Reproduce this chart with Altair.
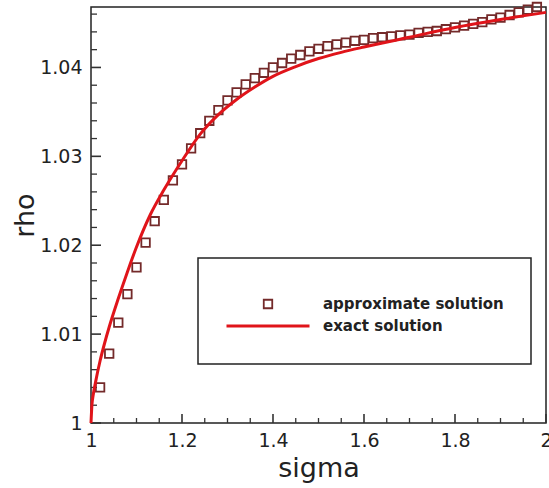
import altair as alt
import pandas as pd

# Approximate solution (square markers)
sigma_approx = [1.02, 1.04, 1.06, 1.08, 1.10, 1.12, 1.14, 1.16, 1.18, 1.20,
                1.22, 1.24, 1.26, 1.28, 1.30, 1.32, 1.34, 1.36, 1.38, 1.40,
                1.42, 1.44, 1.46, 1.48, 1.50, 1.52, 1.54, 1.56, 1.58, 1.60,
                1.62, 1.64, 1.66, 1.68, 1.70, 1.72, 1.74, 1.76, 1.78, 1.80,
                1.82, 1.84, 1.86, 1.88, 1.90, 1.92, 1.94, 1.96, 1.98]
rho_approx = [1.0040, 1.0078, 1.0113, 1.0145, 1.0175, 1.0203, 1.0227, 1.0251, 1.0273, 1.0291,
              1.0309, 1.0326, 1.0340, 1.0352, 1.0363, 1.0372, 1.0381, 1.0388, 1.0394, 1.0400,
              1.0405, 1.0410, 1.0414, 1.0418, 1.0421, 1.0424, 1.0426, 1.0428, 1.0430, 1.0431,
              1.0433, 1.0434, 1.0435, 1.0436, 1.0437, 1.0439, 1.0440, 1.0441, 1.0443, 1.0445,
              1.0447, 1.0449, 1.0451, 1.0454, 1.0456, 1.0459, 1.0462, 1.0465, 1.0468]

# Exact solution (solid line)
sigma_exact = [1.00, 1.002, 1.005, 1.01, 1.02, 1.03, 1.04, 1.06, 1.08, 1.10, 1.13, 1.16,
               1.20, 1.24, 1.28, 1.32, 1.36, 1.40, 1.45, 1.50, 1.55, 1.60, 1.70, 1.80,
               1.90, 2.00]
rho_exact = [1.0000, 1.0020, 1.0032, 1.0046, 1.0070, 1.0090, 1.0108, 1.0140, 1.0170, 1.0198,
             1.0234, 1.0262, 1.0295, 1.0325, 1.0347, 1.0364, 1.0378, 1.0390, 1.0401, 1.0410,
             1.0417, 1.0423, 1.0434, 1.0445, 1.0454, 1.0462]

series_names = ["approximate solution", "exact solution"]
series_colors = ["#742a2a", "#e0141a"]

# Axis ticks (drawn on the inside of the frame)
x_major = [1, 1.2, 1.4, 1.6, 1.8, 2]
x_minor = [1.05, 1.1, 1.15, 1.25, 1.3, 1.35, 1.45, 1.5, 1.55,
           1.65, 1.7, 1.75, 1.85, 1.9, 1.95]
y_major = [1, 1.01, 1.02, 1.03, 1.04]
y_minor = [1.002, 1.004, 1.006, 1.008, 1.012, 1.014, 1.016, 1.018,
           1.022, 1.024, 1.026, 1.028, 1.032, 1.034, 1.036, 1.038,
           1.042, 1.044, 1.046]

approx_df = pd.DataFrame({"sigma": sigma_approx, "rho": rho_approx,
                          "series": series_names[0]})
exact_df = pd.DataFrame({"sigma": sigma_exact, "rho": rho_exact,
                         "series": series_names[1]})

W, H = 455, 416
FONT = "DejaVu Sans"
x_scale = alt.Scale(domain=[1, 2], nice=False, zero=False)
y_scale = alt.Scale(domain=[1, 1.0468], nice=False, zero=False)

x_axis = alt.Axis(values=x_major, format="~g", ticks=False, domain=False, grid=False,
                  labelPadding=8, labelFont=FONT, labelFontSize=19, labelColor="#222",
                  title="sigma", titleFont=FONT, titleFontSize=27,
                  titleFontWeight="normal", titleColor="#222", titlePadding=5,
                  labelFlush=False)
y_axis = alt.Axis(values=y_major, format="~g", ticks=False, domain=False, grid=False,
                  labelPadding=9, labelFont=FONT, labelFontSize=19, labelColor="#222",
                  title="rho", titleFont=FONT, titleFontSize=27,
                  titleFontWeight="normal", titleColor="#222", titlePadding=0,
                  labelFlush=False)

LEG_TITLE = " "
color_enc = alt.Color("series:N", title=LEG_TITLE,
                      scale=alt.Scale(domain=series_names, range=series_colors))
shape_enc = alt.Shape("series:N", title=LEG_TITLE,
                      scale=alt.Scale(domain=series_names, range=["square", "stroke"]))
size_enc = alt.Size("series:N", title=LEG_TITLE,
                    scale=alt.Scale(domain=series_names, range=[72, 6889]))
width_enc = alt.StrokeWidth("series:N", title=LEG_TITLE,
                            scale=alt.Scale(domain=series_names, range=[1.8, 3]))


def x_ticks(values, length, width):
    return alt.Chart(pd.DataFrame({"t": values})).mark_rule(
        color="#333", strokeWidth=width
    ).encode(
        x=alt.X("t:Q", scale=x_scale, axis=x_axis),
        y=alt.value(H),
        y2=alt.value(H - length),
    )


def y_ticks(values, length, width):
    return alt.Chart(pd.DataFrame({"t": values})).mark_rule(
        color="#333", strokeWidth=width
    ).encode(
        y=alt.Y("t:Q", scale=y_scale, axis=y_axis),
        x=alt.value(0),
        x2=alt.value(length),
    )


points = alt.Chart(approx_df).mark_point(
    shape="square", filled=False, opacity=1
).encode(
    x=alt.X("sigma:Q", scale=x_scale, axis=x_axis),
    y=alt.Y("rho:Q", scale=y_scale, axis=y_axis),
    color=color_enc,
    shape=shape_enc,
    size=size_enc,
    strokeWidth=width_enc,
)

curve = alt.Chart(exact_df).mark_line(interpolate="monotone", opacity=1).encode(
    x=alt.X("sigma:Q", scale=x_scale, axis=x_axis),
    y=alt.Y("rho:Q", scale=y_scale, axis=y_axis),
    color=color_enc,
    strokeWidth=width_enc,
)

chart = alt.layer(
    x_ticks(x_minor, 5, 1.3),
    x_ticks(x_major, 9, 1.6),
    y_ticks(y_minor, 6, 1.3),
    y_ticks(y_major, 10, 1.6),
    points,
    curve,
).properties(
    width=W,
    height=H,
    autosize=alt.AutoSizeParams(type="none"),
    padding={"left": 91, "top": 7, "right": 3, "bottom": 65},
).configure_view(
    stroke="#222", strokeWidth=1.5
).configure_legend(
    orient="none",
    legendX=107,
    legendY=251,
    strokeColor="#222",
    strokeWidth=1.5,
    padding=27,
    fillColor="white",
    titleFontSize=8,
    titlePadding=0,
    labelFont=FONT,
    labelFontSize=15,
    labelFontWeight="bold",
    labelColor="#222",
    labelOffset=12,
    clipHeight=22,
    rowPadding=0,
    labelLimit=400,
    symbolOpacity=1,
)

chart.save("out.html", embed_options={"renderer": "svg", "actions": False})
